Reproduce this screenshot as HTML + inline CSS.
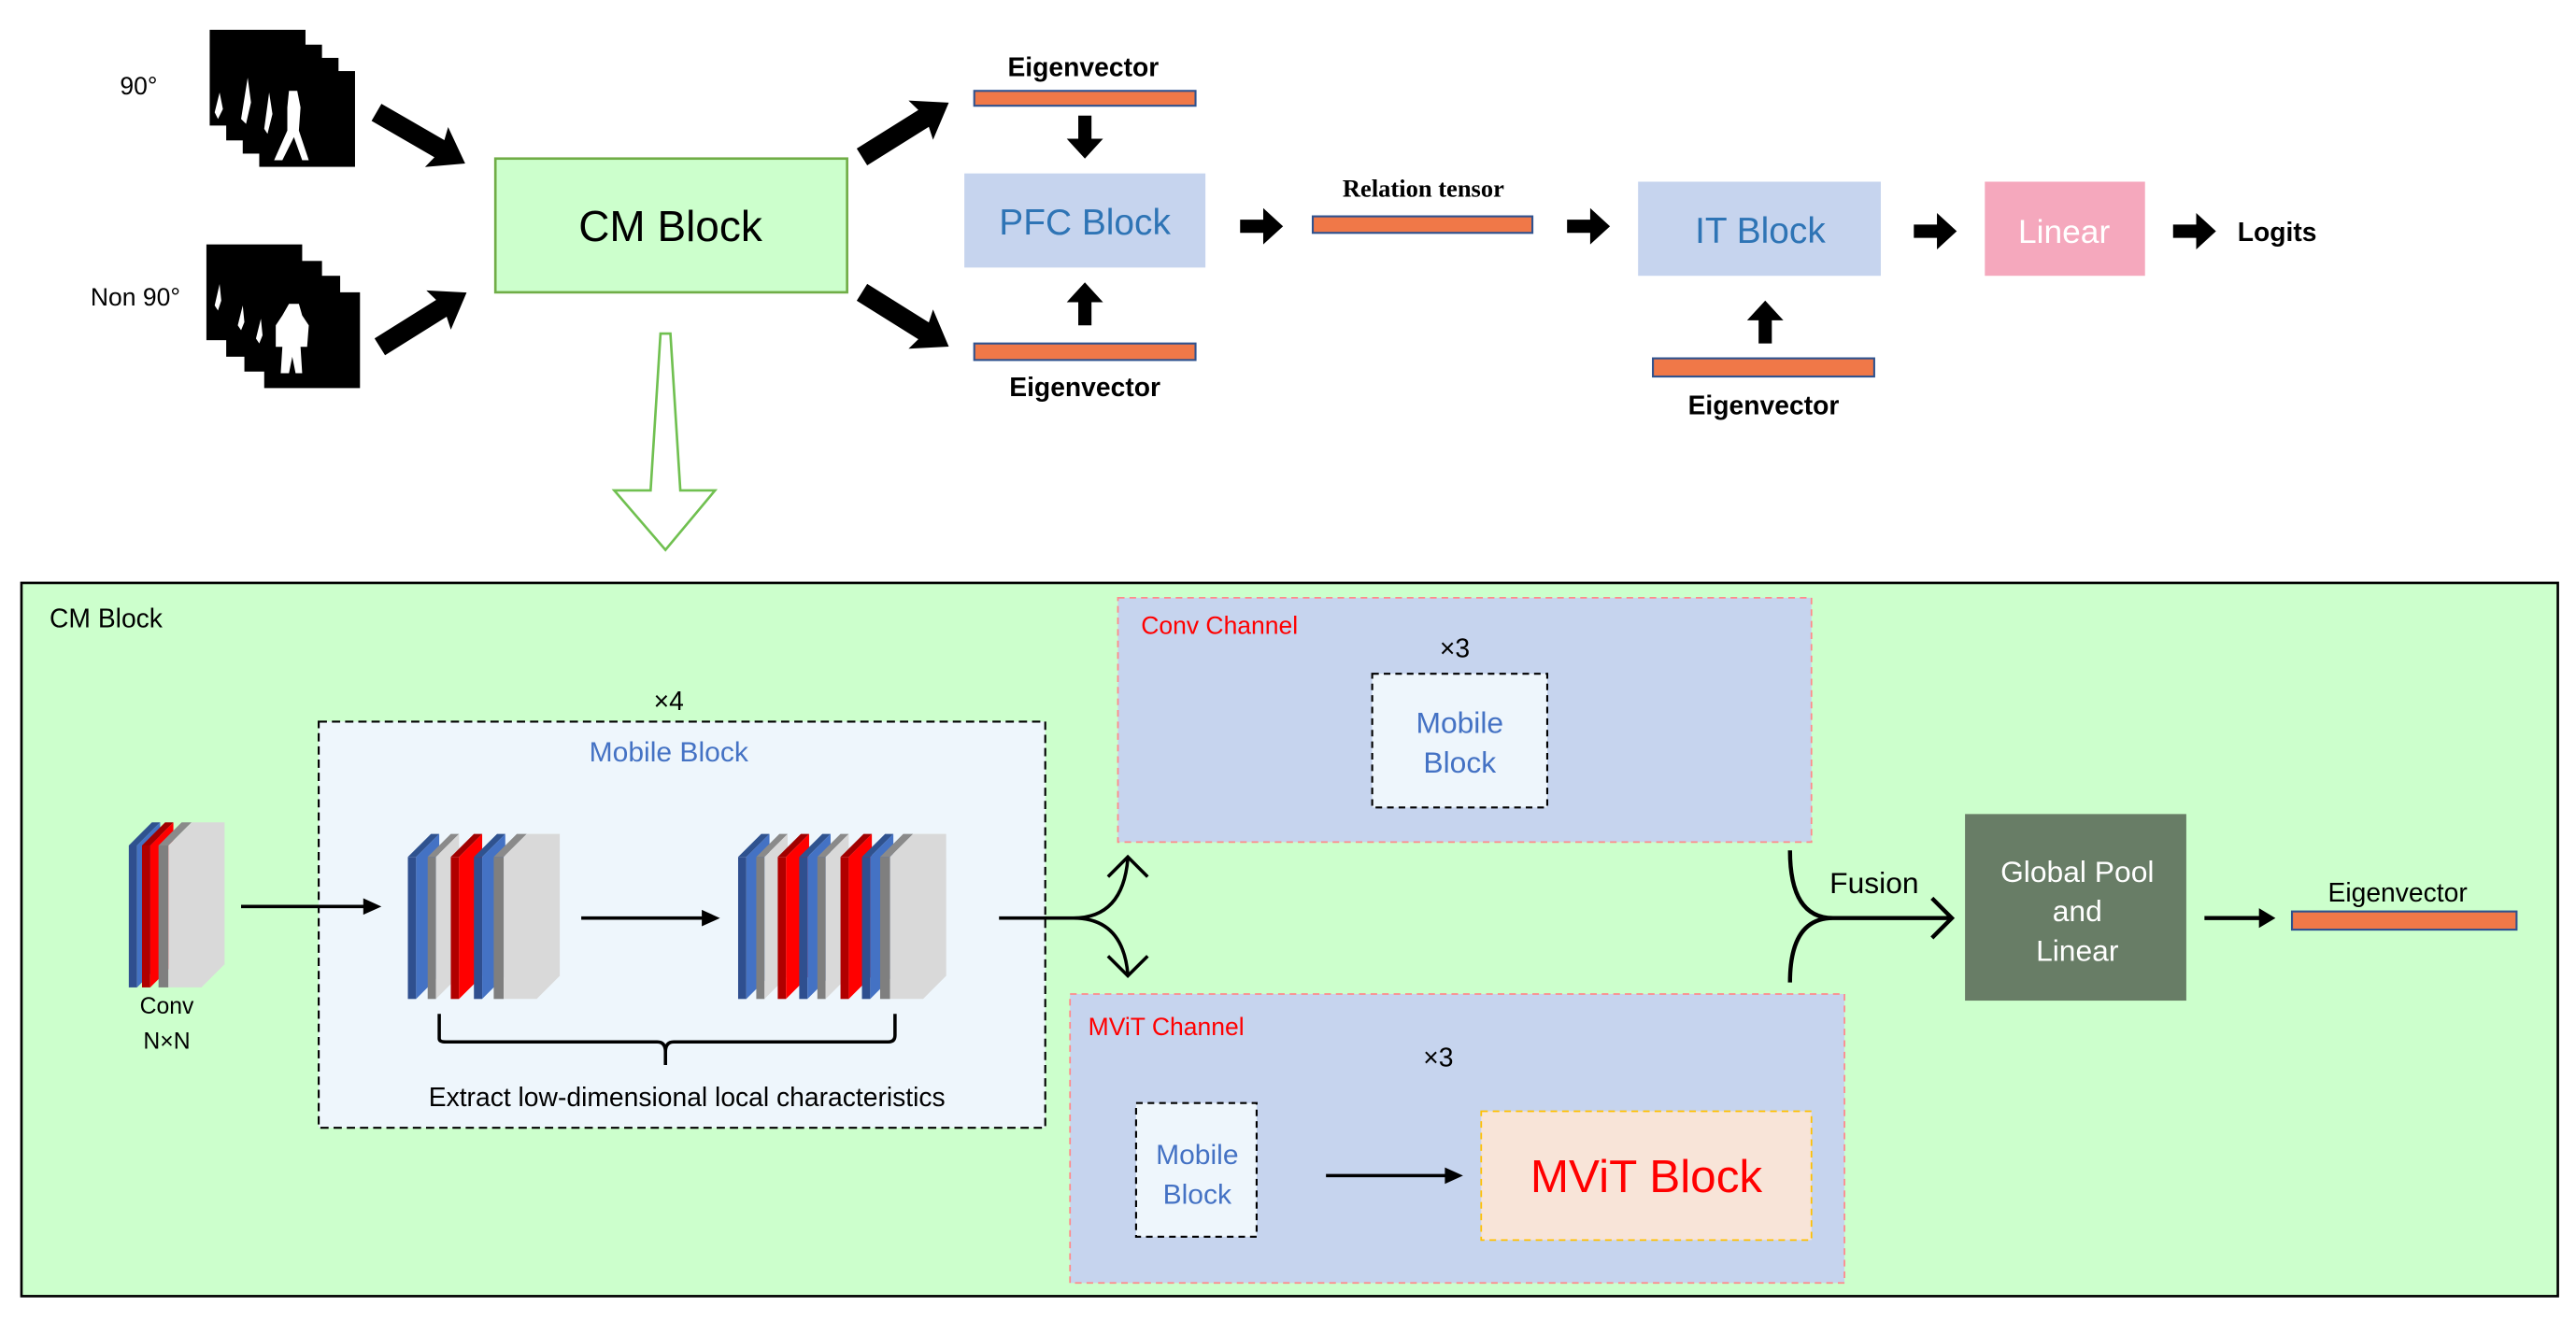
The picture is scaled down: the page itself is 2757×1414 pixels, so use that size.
<!DOCTYPE html>
<html><head><meta charset="utf-8"><style>
html,body{margin:0;padding:0;background:#fff}
svg{display:block}
text{font-family:"Liberation Sans",sans-serif}
</style></head><body>
<svg width="2757" height="1414" viewBox="0 0 1560 800" xmlns="http://www.w3.org/2000/svg">
<defs>
<path id="barr" d="M0,-4 L14,-4 L14,-11 L26,0 L14,11 L14,4 L0,4 Z" fill="#000"/>
<path id="bigarr" d="M0,-6 L44,-6 L42,-14 L62,0 L42,14 L44,6 L0,6 Z" fill="#000"/>
<g id="sb"><polygon points="0,14 14,0 19,0 5,14" fill="#2f528f"/><rect x="0" y="14" width="5" height="86" fill="#2f4f8f"/><polygon points="5,14 19,0 19,86 5,100" fill="#4472c4"/></g>
<g id="sr"><polygon points="0,14 14,0 19,0 5,14" fill="#a00000"/><rect x="0" y="14" width="5" height="86" fill="#b00000"/><polygon points="5,14 19,0 19,86 5,100" fill="#ff0000"/></g>
<g id="sg"><polygon points="0,14 14,0 19,0 5,14" fill="#8a8a8a"/><rect x="0" y="14" width="5" height="86" fill="#7f7f7f"/><polygon points="5,14 19,0 19,86 5,100" fill="#d9d9d9"/></g>
<g id="sgl"><polygon points="0,14 14,0 20,0 6,14" fill="#8a8a8a"/><rect x="0" y="14" width="6" height="86" fill="#7f7f7f"/><polygon points="6,14 20,0 40,0 40,86 26,100 6,100" fill="#d9d9d9"/></g>
</defs>

<text x="84" y="57" font-size="15" text-anchor="middle">90°</text>
<text x="82" y="185" font-size="15" text-anchor="middle">Non 90°</text>
<g fill="#000">
<rect x="127" y="18" width="58" height="58"/><rect x="137" y="27" width="58" height="58"/><rect x="147" y="35" width="58" height="58"/><rect x="157" y="43" width="58" height="58"/>
<rect x="125" y="148" width="58" height="58"/><rect x="137" y="158" width="58" height="58"/><rect x="148" y="167" width="58" height="58"/><rect x="160" y="177" width="58" height="58"/>
</g>
<g fill="#fff">
<path d="M175,55 l5,0 2,10 -1,14 6,18 -4,0 -5,-14 -7,14 -5,0 8,-18 0,-14z"/>
<path d="M130,68 l3,-12 2,10 -3,6z M146,72 l4,-25 2,15 -3,13z M160,78 l3,-22 2,13 -3,12z"/>
<path d="M175,184 l6,0 2,7 4,6 -1,13 -4,0 1,16 -4,0 -2,-10 -2,10 -5,0 1,-16 -4,0 0,-13 4,-6z"/>
<path d="M130,185 l3,-13 1,10 -2,6z M144,197 l3,-12 1,10 -2,5z M155,205 l3,-12 1,10 -2,5z"/>
</g>

<use href="#bigarr" transform="translate(228,68) rotate(30)"/>
<use href="#bigarr" transform="translate(230,210) rotate(-32)"/>
<use href="#bigarr" transform="translate(522,95) rotate(-32)"/>
<use href="#bigarr" transform="translate(522,177) rotate(32)"/>

<rect x="300" y="96" width="213" height="81" fill="#ccffcc" stroke="#70ad47" stroke-width="1.5"/>
<text x="406" y="146" font-size="26" text-anchor="middle">CM Block</text>

<text x="656" y="46" font-size="16" font-weight="bold" text-anchor="middle">Eigenvector</text>
<rect x="590" y="55" width="134" height="9" fill="#f07848" stroke="#2f528f" stroke-width="1.2"/>
<use href="#barr" transform="translate(657,70) rotate(90)"/>
<rect x="584" y="105" width="146" height="57" fill="#c6d4ee"/>
<text x="657" y="142" font-size="22" fill="#2e74b5" text-anchor="middle">PFC Block</text>
<use href="#barr" transform="translate(657,197) rotate(-90)"/>
<rect x="590" y="208" width="134" height="10" fill="#f07848" stroke="#2f528f" stroke-width="1.2"/>
<text x="657" y="240" font-size="16" font-weight="bold" text-anchor="middle">Eigenvector</text>

<use href="#barr" transform="translate(751,137)"/>
<text x="862" y="119" font-size="15" font-weight="bold" text-anchor="middle" style="font-family:'Liberation Serif',serif">Relation tensor</text>
<rect x="795" y="131" width="133" height="10" fill="#f07848" stroke="#2f528f" stroke-width="1.2"/>
<use href="#barr" transform="translate(949,137)"/>
<rect x="992" y="110" width="147" height="57" fill="#c6d4ee"/>
<text x="1066" y="147" font-size="22" fill="#2e74b5" text-anchor="middle">IT Block</text>
<use href="#barr" transform="translate(1069,208) rotate(-90)"/>
<rect x="1001" y="217" width="134" height="11" fill="#f07848" stroke="#2f528f" stroke-width="1.2"/>
<text x="1068" y="251" font-size="16" font-weight="bold" text-anchor="middle">Eigenvector</text>
<use href="#barr" transform="translate(1159,140)"/>
<rect x="1202" y="110" width="97" height="57" fill="#f5a8bd"/>
<text x="1250" y="147" font-size="20" fill="#fff" text-anchor="middle">Linear</text>
<use href="#barr" transform="translate(1316,140)"/>
<text x="1355" y="146" font-size="16" font-weight="bold">Logits</text>

<polygon points="400,202 406,202 412,297 433,297 403,333 372,297 394,297" fill="#fff" stroke="#70c050" stroke-width="1.5"/>

<rect x="13" y="353" width="1536" height="432" fill="#ccffcc" stroke="#000" stroke-width="1.5"/>
<text x="30" y="380" font-size="16">CM Block</text>

<g transform="translate(78,498)">
<use href="#sb" x="0"/><use href="#sr" x="8"/><use href="#sgl" x="18"/>
</g>
<text x="101" y="614" font-size="14" text-anchor="middle">Conv</text>
<text x="101" y="635" font-size="14" text-anchor="middle">N×N</text>

<text x="405" y="430" font-size="16" text-anchor="middle">×4</text>
<rect x="193" y="437" width="440" height="246" fill="#eef6fc" stroke="#000" stroke-width="1.2" stroke-dasharray="5,3"/>
<text x="405" y="461" font-size="17" fill="#4472c4" text-anchor="middle">Mobile Block</text>
<line x1="146" y1="549" x2="222" y2="549" stroke="#000" stroke-width="2"/>
<polygon points="220,544 231,549 220,554" fill="#000"/>
<g transform="translate(247,505)">
<use href="#sb" x="0"/><use href="#sg" x="12"/><use href="#sr" x="26"/><use href="#sb" x="40"/><use href="#sgl" x="52"/>
</g>
<line x1="352" y1="556" x2="427" y2="556" stroke="#000" stroke-width="2"/>
<polygon points="425,551 436,556 425,561" fill="#000"/>
<g transform="translate(447,505)">
<use href="#sb" x="0"/><use href="#sg" x="11"/><use href="#sr" x="24"/><use href="#sb" x="37"/><use href="#sg" x="48"/><use href="#sr" x="62"/><use href="#sb" x="75"/><use href="#sgl" x="86"/>
</g>
<path d="M266,614 L266,629 Q266,631 270,631 L398,631 Q403,631 403,637 L403,645 M403,637 Q403,631 408,631 L538,631 Q542,631 542,627 L542,614" fill="none" stroke="#000" stroke-width="2"/>
<text x="416" y="670" font-size="16" text-anchor="middle">Extract low-dimensional  local characteristics</text>

<path d="M605,556 L650,556 Q680,556 683,520 M650,556 Q680,556 683,590" fill="none" stroke="#000" stroke-width="2"/>
<path d="M671,531 L683,519 L695,531 M671,579 L683,591 L695,579" fill="none" stroke="#000" stroke-width="2"/>

<rect x="677" y="362" width="420" height="148" fill="#c6d4ee" stroke="#ff8a8a" stroke-width="1" stroke-dasharray="4,3"/>
<text x="691" y="384" font-size="15" fill="#ff0000">Conv Channel</text>
<text x="881" y="398" font-size="16" text-anchor="middle">×3</text>
<rect x="831" y="408" width="106" height="81" fill="#eef6fc" stroke="#000" stroke-width="1.2" stroke-dasharray="4,3"/>
<text x="884" y="444" font-size="18" fill="#4472c4" text-anchor="middle">Mobile</text>
<text x="884" y="468" font-size="18" fill="#4472c4" text-anchor="middle">Block</text>

<rect x="648" y="602" width="469" height="175" fill="#c6d4ee" stroke="#ff8a8a" stroke-width="1" stroke-dasharray="4,3"/>
<text x="659" y="627" font-size="15" fill="#ff0000">MViT Channel</text>
<text x="871" y="646" font-size="16" text-anchor="middle">×3</text>
<rect x="688" y="668" width="73" height="81" fill="#eef6fc" stroke="#000" stroke-width="1.2" stroke-dasharray="4,3"/>
<text x="725" y="705" font-size="17" fill="#4472c4" text-anchor="middle">Mobile</text>
<text x="725" y="729" font-size="17" fill="#4472c4" text-anchor="middle">Block</text>
<line x1="803" y1="712" x2="877" y2="712" stroke="#000" stroke-width="2"/>
<polygon points="875,707 886,712 875,717" fill="#000"/>
<rect x="897" y="673" width="200" height="78" fill="#f8e4d8" stroke="#ffc000" stroke-width="1" stroke-dasharray="4,3"/>
<text x="997" y="722" font-size="28" fill="#ff0000" text-anchor="middle">MViT Block</text>

<path d="M1084,515 Q1084,556 1110,556 L1182,556 M1110,556 Q1084,556 1084,595" fill="none" stroke="#000" stroke-width="2.5"/>
<path d="M1170,544 L1182,556 L1170,568" fill="none" stroke="#000" stroke-width="2.5"/>
<text x="1135" y="541" font-size="18" text-anchor="middle">Fusion</text>

<rect x="1190" y="493" width="134" height="113" fill="#687d66"/>
<text x="1258" y="534" font-size="18" fill="#fff" text-anchor="middle">Global Pool</text>
<text x="1258" y="558" font-size="18" fill="#fff" text-anchor="middle">and</text>
<text x="1258" y="582" font-size="18" fill="#fff" text-anchor="middle">Linear</text>
<line x1="1335" y1="556" x2="1370" y2="556" stroke="#000" stroke-width="2.5"/>
<polygon points="1368,550 1378,556 1368,562" fill="#000"/>
<text x="1452" y="546" font-size="16" text-anchor="middle">Eigenvector</text>
<rect x="1388" y="552" width="136" height="11" fill="#f07848" stroke="#2f528f" stroke-width="1.2"/>
</svg>
</body></html>
